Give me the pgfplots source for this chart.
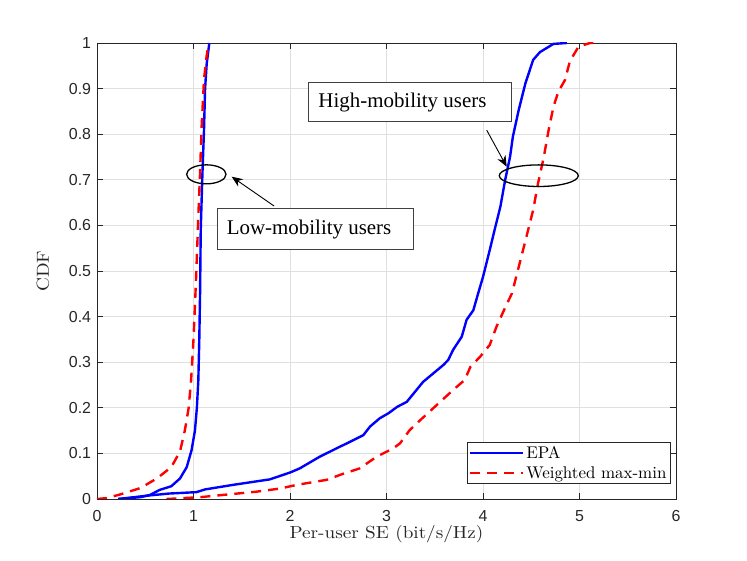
\documentclass[border=0pt]{standalone}
\usepackage{fontspec}
\newfontfamily\arialfont{Liberation Sans}
\newfontfamily\timesfont{Liberation Serif}
\newfontfamily\lmten{lmroman10-regular}[Extension=.otf]
\usepackage{pgfplots}
\pgfplotsset{compat=1.18}
\usetikzlibrary{arrows.meta}
\definecolor{mblue}{rgb}{0,0,1}
\definecolor{mred}{rgb}{1,0,0}
\begin{document}
\begin{tikzpicture}
\useasboundingbox (-97bp,-62bp) rectangle (650bp,499bp);
\begin{axis}[
  scale only axis, width=579bp, height=456bp,
  xmin=0, xmax=6, ymin=0, ymax=1,
  xtick={0,1,2,3,4,5,6}, xticklabels={0,1,2,3,4,5,6},
  ytick={0,0.1,0.2,0.3,0.4,0.5,0.6,0.7,0.8,0.9,1},
  yticklabels={0,0.1,0.2,0.3,0.4,0.5,0.6,0.7,0.8,0.9,1},
  tick align=inside, major tick length=6bp,
  grid=major, major grid style={black!12, line width=0.6bp},
  axis line style={black!85, line width=0.6bp},
  tick style={black!85, line width=0.6bp},
  ticklabel style={font=\arialfont\fontsize{16}{16}\selectfont, text=black!85},
  xticklabel style={yshift=-7.7bp},
  yticklabel style={xshift=-2.4bp},
  xlabel={Per-user SE (bit/s/Hz)}, ylabel={CDF},
  every axis x label/.style={at={(axis description cs:0.5,-0.0862)}, anchor=base, font=\lmten\fontsize{17.5}{17.5}\selectfont, xscale=1.1, text=black!85},
  every axis y label/.style={at={(axis description cs:-0.0933,0.5)}, anchor=center, rotate=90, font=\lmten\fontsize{17.5}{17.5}\selectfont, xscale=1.1, text=black!85},
  legend style={at={(0.991,0.033)}, anchor=south east, draw=black!85, line width=0.6bp, fill=white,
    font=\lmten\fontsize{17}{17}\selectfont, inner sep=2bp, row sep=2.5bp},
  legend cell align=left,
  legend image code/.code={\draw[#1] (0bp,0bp) -- (53bp,0bp);},
]
% low-mobility EPA
\addplot[mblue, line width=2.4bp] coordinates {
(0.22,0) (0.45,0.004) (0.55,0.009) (0.65,0.02) (0.77,0.028) (0.86,0.045) (0.93,0.07) (0.98,0.107) (1.015,0.15) (1.035,0.2) (1.05,0.26) (1.06,0.35) (1.068,0.45) (1.075,0.59) (1.092,0.71) (1.109,0.81) (1.12,0.9) (1.137,0.955) (1.164,1.0)};
\addlegendentry{EPA}
% low-mobility weighted max-min
\addplot[mred, line width=2.4bp, dash pattern=on 10bp off 7bp] coordinates {
(0,0) (0.1,0.002) (0.24,0.01) (0.45,0.024) (0.62,0.045) (0.77,0.07) (0.86,0.104) (0.91,0.15) (0.95,0.2) (0.975,0.26) (1.0,0.35) (1.02,0.45) (1.033,0.52) (1.05,0.62) (1.067,0.71) (1.085,0.82) (1.109,0.92) (1.135,0.97) (1.157,1.0)};
\addlegendentry{Weighted max-min}
% high-mobility EPA
\addplot[mblue, line width=2.4bp, forget plot] coordinates {
(0.22,0) (0.55,0.008) (0.75,0.012) (1.03,0.015) (1.12,0.021) (1.41,0.031) (1.79,0.043) (2.0,0.058) (2.10,0.067) (2.31,0.093) (2.52,0.115) (2.59,0.122) (2.76,0.14) (2.83,0.159) (2.93,0.177) (3.02,0.188) (3.11,0.202) (3.21,0.213) (3.38,0.257) (3.59,0.294) (3.64,0.305) (3.69,0.327) (3.78,0.356) (3.83,0.393) (3.90,0.414) (3.95,0.451) (4.00,0.487) (4.07,0.546) (4.12,0.59) (4.18,0.641) (4.23,0.70) (4.28,0.75) (4.31,0.795) (4.37,0.853) (4.44,0.912) (4.52,0.963) (4.59,0.98) (4.73,0.998) (4.87,1.0)};
% high-mobility weighted max-min
\addplot[mred, line width=2.4bp, dash pattern=on 10bp off 7bp, forget plot] coordinates {
(0.72,0) (1.07,0.004) (1.31,0.009) (1.65,0.016) (1.90,0.023) (2.07,0.031) (2.38,0.042) (2.52,0.053) (2.72,0.067) (2.90,0.093) (3.07,0.111) (3.14,0.122) (3.24,0.151) (3.35,0.173) (3.52,0.206) (3.69,0.239) (3.81,0.261) (3.87,0.29) (3.97,0.312) (4.07,0.338) (4.14,0.378) (4.23,0.42) (4.30,0.451) (4.38,0.517) (4.45,0.575) (4.52,0.634) (4.57,0.692) (4.63,0.75) (4.68,0.809) (4.73,0.86) (4.78,0.893) (4.85,0.919) (4.90,0.96) (4.99,0.992) (5.11,1.0) (5.21,1.0)};
% annotations
\draw[black, line width=1.3bp] (axis cs:1.133,0.712) ellipse [x radius=19.7bp, y radius=9.5bp];
\draw[black, line width=1.3bp] (axis cs:4.578,0.709) ellipse [x radius=39.5bp, y radius=10.8bp];
\draw[black!75, line width=0.8bp, fill=white] (axis cs:1.247,0.5476) rectangle (axis cs:3.278,0.6375);
\node[anchor=base west, inner sep=0pt, font=\timesfont\fontsize{21}{21}\selectfont] at (axis cs:1.344,0.5805) {Low-mobility users};
\draw[black!75, line width=0.8bp, fill=white] (axis cs:2.190,0.8274) rectangle (axis cs:4.297,0.913);
\node[anchor=base west, inner sep=0pt, font=\timesfont\fontsize{21}{21}\selectfont] at (axis cs:2.293,0.858) {High-mobility users};
\draw[-{Stealth[length=11bp,width=9bp]}, line width=0.9bp] (axis cs:1.835,0.6425) -- (axis cs:1.396,0.7068);
\draw[-{Stealth[length=11bp,width=9bp]}, line width=0.9bp] (axis cs:4.038,0.809) -- (axis cs:4.246,0.7287);
\end{axis}
\end{tikzpicture}
\end{document}
